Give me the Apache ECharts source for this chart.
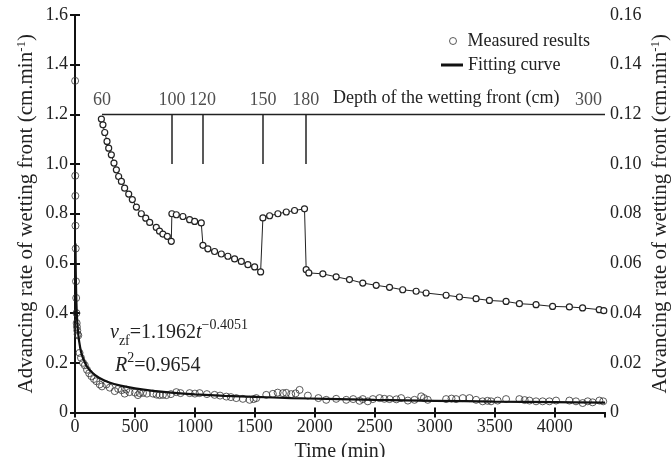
<!DOCTYPE html>
<html>
<head>
<meta charset="utf-8">
<script src="https://cdn.jsdelivr.net/npm/echarts@6/dist/echarts.min.js"></script>
<style>html,body{margin:0;padding:0;background:#fff;}#c{width:671px;height:457px;}</style>
</head>
<body>
<div id="c"></div>
<script>
// ---- Data ----
// Upper curve (right axis, cm/min)
var upperTimes = [220,233,248,267,281,303,325,345,364,387,414,448,478,512,553,590,623,678,705,733,770,803,
  808,845,900,956,998,1053,
  1067,1108,1164,1220,1275,1331,1387,1442,1498,1548,
  1567,1623,1692,1762,1831,1914,
  1928,1950,2067,2178,2289,2400,2512,2623,2733,2845,2928,3095,3206,3345,3456,3595,3706,3845,3983,4123,4233,4372,4410];
var upperRates = [0.1181,0.1158,0.1127,0.1091,0.1064,0.1037,0.1004,0.0977,0.0950,0.0930,0.0903,0.0879,0.0857,0.0827,0.0800,0.0782,0.0765,0.0745,0.0730,0.0718,0.0709,0.0689,
  0.0800,0.0796,0.0789,0.0776,0.0769,0.0763,
  0.0673,0.0659,0.0648,0.0638,0.0629,0.0618,0.0608,0.0595,0.0586,0.0566,
  0.0783,0.0792,0.0800,0.0807,0.0813,0.0820,
  0.0575,0.0562,0.0558,0.0546,0.0535,0.0521,0.0512,0.0504,0.0494,0.0488,0.0481,0.0472,0.0465,0.0458,0.0451,0.0447,0.0438,0.0434,0.0427,0.0425,0.0421,0.0414,0.0410];

// Measured results (left axis, cm/min)
var measuredTimes = [1,2,3,4,6,8,10,12,14,16,19,22,27,38,50,67,82,100,118,137,158,178,206,225,262,290,331,360,390,414,428,455,500,525,539,567,600,650,680,706,733,762,800,845,880,956,1000,1039,1100,1164,1210,1262,1300,1345,1400,1456,1490,1512,1595,1650,1690,1734,1762,1803,1840,1873,1942,2030,2095,2178,2262,2320,2373,2400,2442,2484,2540,2580,2623,2680,2720,2776,2831,2887,2910,2942,3095,3140,3178,3234,3290,3345,3400,3440,3470,3525,3595,3706,3750,3790,3845,3900,3956,4012,4123,4178,4234,4276,4317,4373,4405];
var measuredRates = [1.335,0.953,0.872,0.752,0.66,0.528,0.461,0.40,0.36,0.345,0.33,0.315,0.31,0.24,0.22,0.20,0.19,0.172,0.158,0.146,0.135,0.126,0.113,0.105,0.113,0.10,0.086,0.095,0.09,0.076,0.092,0.082,0.08,0.07,0.078,0.079,0.076,0.076,0.072,0.070,0.071,0.070,0.074,0.082,0.078,0.078,0.076,0.078,0.074,0.071,0.068,0.064,0.062,0.058,0.055,0.051,0.054,0.058,0.071,0.075,0.08,0.078,0.079,0.074,0.077,0.091,0.068,0.058,0.051,0.055,0.051,0.054,0.047,0.054,0.045,0.054,0.058,0.055,0.054,0.053,0.058,0.048,0.051,0.065,0.058,0.051,0.054,0.056,0.054,0.058,0.058,0.051,0.045,0.047,0.045,0.048,0.054,0.054,0.05,0.048,0.045,0.045,0.045,0.048,0.048,0.045,0.038,0.045,0.041,0.048,0.045];

// Fitting curve (left axis)
var fitTimes = [4,6,8,12,17,25,35,50,70,100,140,200,280,380,500,650,800,1000,1250,1500,1800,2100,2500,3000,3500,4000,4420];
var fitRates = [0.68,0.58,0.52,0.44,0.38,0.325,0.285,0.245,0.215,0.185,0.162,0.140,0.122,0.108,0.097,0.087,0.080,0.073,0.067,0.063,0.058,0.055,0.051,0.047,0.044,0.042,0.040];

// Depth of the wetting front markers
var depthTimes = [225, 808, 1064, 1567, 1925, 4420];
var depthLabels = ['60', '100', '120', '150', '180', '300'];
var depthLevel = 1.2;
var depthTickEnd = 1.0;

// Axis ranges / ticks
var xMin = 0, xMax = 4420, xStep = 500;
var yLeftMax = 1.6, yLeftStep = 0.2;
var yRightMax = 0.16, yRightStep = 0.02;

function zip(a, b) { return a.map(function (v, i) { return [v, b[i]]; }); }

var FONT = 'Liberation Serif';
var chart = echarts.init(document.getElementById('c'), null, {renderer: 'canvas'});

var axisLineStyle = {color: '#111', width: 2};
var tickStyle = {color: '#111', width: 2};

var nameRich = {
  a: {fontFamily: FONT, fontSize: 21, color: '#222', lineHeight: 22},
  s: {fontFamily: FONT, fontSize: 13, color: '#222', lineHeight: 13, verticalAlign: 'top'}
};

var option = {
  animation: false,
  backgroundColor: '#fff',
  grid: {left: 75, right: 66, top: 15, bottom: 44.5, containLabel: false, outerBoundsMode: 'none'},
  xAxis: [{
    type: 'value', min: xMin, max: xMax, interval: xStep, position: 'bottom',
    name: 'Time (min)', nameLocation: 'middle', nameGap: 24,
    nameTextStyle: {fontFamily: FONT, fontSize: 20, color: '#222'},
    axisLine: {lineStyle: axisLineStyle},
    axisTick: {inside: true, length: 5, lineStyle: tickStyle},
    axisLabel: {fontFamily: FONT, fontSize: 18, color: '#222', margin: 6, showMaxLabel: false,
      formatter: function (v) { return String(v); }},
    splitLine: {show: false}
  }, {
    type: 'value', min: xMin, max: xMax, interval: xStep, position: 'top',
    axisLine: {lineStyle: axisLineStyle},
    axisTick: {inside: true, length: 5, lineStyle: tickStyle},
    axisLabel: {show: false},
    splitLine: {show: false}
  }],
  yAxis: [{
    type: 'value', min: 0, max: yLeftMax, interval: yLeftStep, position: 'left',
    name: '{a|Advancing rate of wetting front (cm.min}{s|-1}{a|)}',
    nameLocation: 'middle', nameRotate: 90, nameGap: 38, nameMoveOverlap: false,
    nameTextStyle: {rich: nameRich},
    axisLine: {show: true, lineStyle: axisLineStyle},
    axisTick: {inside: true, length: 5, lineStyle: tickStyle},
    axisLabel: {fontFamily: FONT, fontSize: 18, color: '#222', margin: 7,
      formatter: function (v) { return v === 0 ? '0' : v.toFixed(1); }},
    splitLine: {show: false}
  }, {
    type: 'value', min: 0, max: yRightMax, interval: yRightStep, position: 'right',
    name: '{a|Advancing rate of wetting front (cm.min}{s|-1}{a|)}',
    nameLocation: 'middle', nameRotate: 90, nameGap: 44, nameMoveOverlap: false,
    nameTextStyle: {rich: nameRich},
    axisLine: {show: true, lineStyle: axisLineStyle},
    axisTick: {inside: true, length: 5, lineStyle: tickStyle},
    axisLabel: {fontFamily: FONT, fontSize: 18, color: '#222', margin: 5,
      formatter: function (v) { return v === 0 ? '0' : v.toFixed(2); }},
    splitLine: {show: false}
  }],
  legend: [{
    data: ['Measured results'], left: 444, top: 27, orient: 'vertical',
    itemWidth: 7, itemHeight: 7, icon: 'circle',
    itemStyle: {color: '#fff', borderColor: '#333', borderWidth: 1},
    textStyle: {fontFamily: FONT, fontSize: 18, color: '#222', padding: [0, 0, 0, 6]}
  }, {
    data: ['Fitting curve'], left: 436, top: 51, orient: 'vertical',
    itemWidth: 22, itemHeight: 3, icon: 'rect',
    itemStyle: {color: '#111', borderWidth: 0},
    textStyle: {fontFamily: FONT, fontSize: 18, color: '#222'}
  }],
  graphic: [{
    type: 'text', left: 333, top: 89,
    style: {text: 'Depth of the wetting front (cm)', font: '18px "Liberation Serif"', fill: '#222'}
  }, {
    type: 'text', left: 110, top: 318,
    style: {
      text: '{i|v}{sub|zf}{n|=1.1962}{i|t}{sup|\u22120.4051}',
      rich: {
        i: {fontFamily: FONT, fontStyle: 'italic', fontSize: 20, lineHeight: 30, fill: '#222'},
        n: {fontFamily: FONT, fontSize: 20, lineHeight: 30, fill: '#222'},
        sub: {fontFamily: FONT, fontSize: 14, lineHeight: 14, verticalAlign: 'bottom', fill: '#222'},
        sup: {fontFamily: FONT, fontSize: 14, lineHeight: 14, verticalAlign: 'top', fill: '#222'}
      }
    }
  }, {
    type: 'text', left: 115, top: 351,
    style: {
      text: '{i|R}{sup|2}{n|=0.9654}',
      rich: {
        i: {fontFamily: FONT, fontStyle: 'italic', fontSize: 20, lineHeight: 30, fill: '#222'},
        n: {fontFamily: FONT, fontSize: 20, lineHeight: 30, fill: '#222'},
        sup: {fontFamily: FONT, fontSize: 14, lineHeight: 14, verticalAlign: 'top', fill: '#222'}
      }
    }
  }],
  series: [{
    name: 'Depth line', type: 'line', xAxisIndex: 0, yAxisIndex: 0,
    data: [[depthTimes[0], depthLevel], [depthTimes[depthTimes.length - 1], depthLevel]],
    symbol: 'none', silent: true, z: 3,
    lineStyle: {color: '#222', width: 1.5},
    markLine: {
      silent: true, symbol: 'none', label: {show: false},
      lineStyle: {color: '#222', width: 1.5, type: 'solid'},
      data: depthTimes.slice(1, depthTimes.length - 1).map(function (t) {
        return [{coord: [t, depthLevel]}, {coord: [t, depthTickEnd]}];
      })
    }
  }, {
    name: 'Depth labels', type: 'scatter', xAxisIndex: 0, yAxisIndex: 0,
    symbolSize: 0, silent: true, z: 3,
    data: depthTimes.map(function (t, i) {
      var d = {value: [t, depthLevel], name: depthLabels[i]};
      if (i === depthTimes.length - 1) {
        d.label = {align: 'right', offset: [-3, 0]};
      }
      return d;
    }),
    label: {show: true, position: 'top', distance: 5, formatter: '{b}',
      fontFamily: FONT, fontSize: 18, color: '#222'}
  }, {
    name: 'Upper measured', type: 'line', xAxisIndex: 0, yAxisIndex: 1,
    data: zip(upperTimes, upperRates),
    symbol: 'circle', symbolSize: 6, showSymbol: true, z: 4,
    lineStyle: {color: '#222', width: 1},
    itemStyle: {color: '#fff', borderColor: '#222', borderWidth: 1.2}
  }, {
    name: 'Measured results', type: 'scatter', xAxisIndex: 0, yAxisIndex: 0,
    data: zip(measuredTimes, measuredRates),
    symbol: 'circle', symbolSize: 7, z: 4,
    itemStyle: {color: 'rgba(255,255,255,0)', borderColor: '#333', borderWidth: 1}
  }, {
    name: 'Fitting curve', type: 'line', xAxisIndex: 0, yAxisIndex: 0,
    data: zip(fitTimes, fitRates),
    symbol: 'none', smooth: 0.3, z: 5,
    lineStyle: {color: '#111', width: 2.2}
  }]
};
chart.setOption(option);
</script>
</body>
</html>
